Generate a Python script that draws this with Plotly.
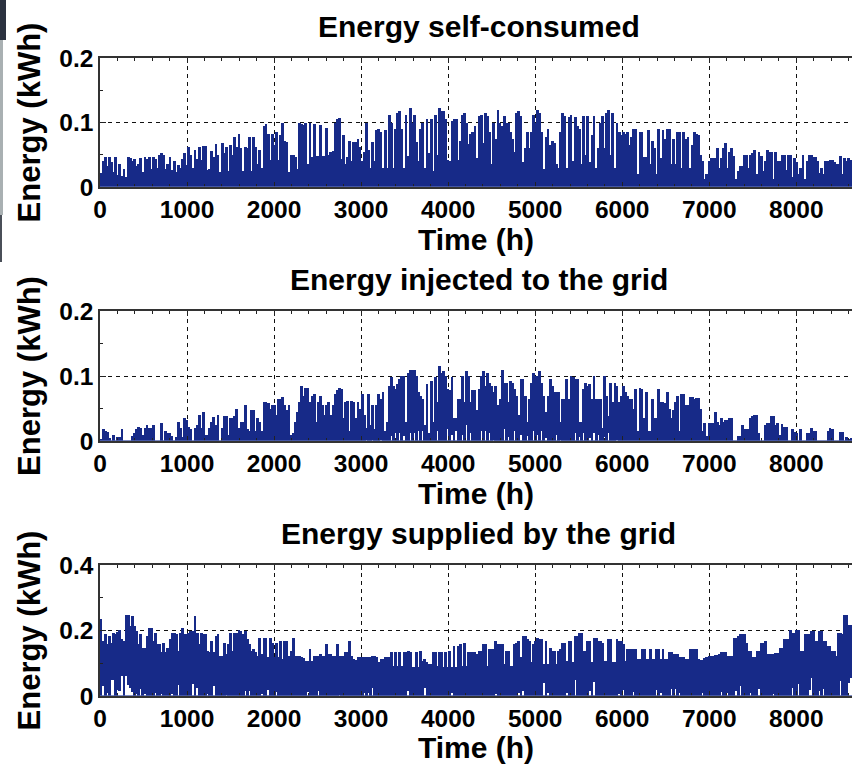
import plotly.graph_objects as go

STEP_H = 24  # one bar per day of the year, values in Wh
self_consumed_wh = [
    22,40,47,32,46,38,24,46,18,35, 17,28,15,46,45,40,44,32,36,45,
    24,46,44,46,28,46,44,30,50,52, 50,28,36,46,27,40,24,34,30,44,
    52,34,62,50,30,58,44,62,42,63, 64,26,28,56,47,66,50,24,68,52,
    62,25,65,50,78,62,82,60,25,62, 60,78,25,78,62,36,58,30,95,98,
    82,42,82,65,86,42,80,100,72,70, 24,50,50,46,28,100,98,96,100,36,
    100,46,98,48,48,96,48,48,92,50, 55,56,100,105,107,44,80,36,46,72,
    40,70,70,75,62,40,55,100,58,30, 70,40,88,90,85,30,88,30,112,100,
    30,90,115,118,90,30,112,48,122,100, 112,70,40,90,100,30,106,53,105,25,
    112,50,122,118,118,105,42,40,102,105, 105,42,72,112,115,100,66,82,85,95,
    45,110,112,68,115,110,85,36,100,75, 120,100,95,110,100,100,85,75,55,115,
    118,110,38,60,85,60,85,112,100,120, 115,85,28,78,90,65,72,68,35,30,
    85,115,110,30,108,112,40,108,95,90, 35,110,50,110,38,80,110,30,60,100,
    110,60,115,120,50,115,30,100,85,80, 85,82,85,65,78,90,90,20,85,85,
    46,46,88,35,72,60,20,90,45,88, 75,90,90,35,75,35,85,85,30,85,
    75,78,30,65,85,82,80,50,40,12, 20,40,45,45,45,60,30,45,60,68,
    30,55,60,48,12,25,32,32,50,50, 30,50,52,58,20,55,48,25,40,58,
    55,55,12,55,40,40,50,50,26,50, 50,15,45,38,20,30,50,12,40,50,
    50,46,46,40,22,30,20,40,40,42, 42,38,35,35,48,20,45,40,45,42,
]
injected_wh = [
    2,18,15,14,5,0,10,0,6,6, 18,0,0,0,0,8,12,18,22,20,
    10,20,25,20,20,25,0,0,0,28, 0,16,12,13,8,0,6,30,20,6,
    35,32,22,18,0,20,25,40,20,45, 10,10,20,30,37,25,40,0,20,38,
    38,10,35,35,38,50,20,30,30,55, 18,15,48,48,15,35,30,15,60,60,
    58,50,55,55,40,65,65,68,55,48, 55,10,12,30,45,60,85,70,82,82,
    60,70,72,30,60,70,55,40,55,60, 40,55,72,78,82,80,35,60,62,15,
    62,60,35,60,50,72,40,20,73,25, 55,18,55,72,65,75,15,30,85,98,
    85,80,88,95,100,100,30,105,110,110, 110,100,75,70,65,25,88,12,92,30,
    98,60,115,105,108,100,80,78,98,35, 35,65,65,100,60,108,100,60,78,78,
    48,80,100,108,85,105,90,85,75,85, 55,65,110,90,90,60,92,90,80,70,
    40,95,95,70,30,65,90,105,100,100, 108,90,70,45,70,95,85,75,75,75,
    30,65,65,95,65,100,98,95,95,30, 30,80,90,85,88,65,100,65,65,65,
    20,100,70,38,90,60,90,85,60,70, 85,75,70,65,65,50,80,15,82,80,
    35,75,15,15,65,35,35,80,60,60, 58,75,50,35,48,60,70,15,72,72,
    55,55,68,68,65,66,66,50,15,27, 8,28,28,28,45,30,25,35,30,32,
    32,36,36,0,0,8,8,25,18,18, 18,35,38,40,40,12,0,0,25,28,
    28,38,38,25,28,10,26,22,22,0, 0,18,14,13,0,18,0,0,12,12,
    20,15,16,0,0,0,0,0,16,20, 18,0,0,0,14,14,0,6,3,5,
]
supplied_wh = [
    235,168,188,158,183,163,193,190,196,203, 175,168,248,248,213,243,213,198,158,188,
    148,148,183,208,208,168,193,158,158,133, 163,133,148,173,193,193,188,138,193,208,
    188,190,193,198,198,243,193,158,193,190, 190,138,133,168,133,183,188,123,123,163,
    128,160,193,138,193,193,203,198,188,198, 173,158,138,143,133,123,178,128,178,178,
    118,178,163,118,163,118,168,113,168,168, 123,138,178,123,123,123,118,116,108,108,
    143,108,123,123,123,128,123,123,158,128, 128,123,123,158,123,123,123,133,133,168,
    123,113,110,118,118,118,118,118,118,118, 123,123,118,103,113,113,118,118,118,133,
    93,133,93,133,93,133,133,138,133,88, 88,133,88,138,108,113,103,98,98,133,
    133,93,133,133,88,133,88,138,88,153, 88,153,158,93,163,93,133,133,133,133,
    128,138,138,158,160,93,143,143,143,168, 158,158,160,98,138,138,93,93,160,163,
    168,120,183,183,173,168,103,158,168,178, 173,173,98,168,98,148,138,138,98,138,
    143,163,163,108,168,168,103,183,183,193, 193,138,138,168,168,103,178,178,168,168,
    163,108,108,173,173,103,103,173,168,168, 158,108,143,143,143,143,143,113,113,143,
    143,113,113,143,113,113,143,143,113,143, 113,113,133,133,128,128,128,118,118,118,
    113,113,143,143,143,143,113,110,110,115, 118,123,123,123,125,125,128,133,133,133,
    123,123,123,178,178,183,188,188,188,163, 138,138,118,118,138,138,163,163,168,128,
    128,128,128,130,130,148,148,173,173,173, 203,193,193,203,203,138,138,188,188,188,
    198,198,168,168,198,198,168,168,153,153, 138,138,123,193,193,188,248,248,218,218,
]

# Hours where the column does not reach the baseline, and the height of that opening (Wh)
injected_gap_hours = [3046,3111,3219,3334,3380,3429,3479,3544,3594,3640,3697,3862,3977,4023,4077,
                      4146,4195,4245,4360,4406,4460,4513,4628,4674,4743,4835,4896,4961,5011,5057,
                      5111,5172,5226,5279,5440,5490,5555,5609,5662,5723,5777,5824,5919]
injected_gap_wh = [2,2,2,8,12,12,8,12,12,15,15,16,18,10,15,10,25,12,15,15,12,2,18,6,15,10,8,15,
                   10,15,4,4,10,2,12,6,12,4,12,10,6,12,2]
supplied_gap_hours = [23,73,123,138,188,214,237,283,303,329,352,406,456,513,628,697,827,889,1057,
                      1115,1222,1287,1432,1662,1700,1854,1930,2026,2371,2486,2735,3022,3072,3129,
                      3520,3730,4037,4536,4805,4854,5076,5134,5356,5459,5620,5670,5954,6003,6118,
                      6386,6436,6551,6608,6651,6923,7133,7191,7286,7344,7470,7566,7727,7949,8014,
                      8129,8167,8263,8301,8493,8581,8627]
supplied_gap_wh = [30,10,50,50,18,15,60,60,35,25,12,5,20,5,8,5,5,35,38,25,5,30,3,15,15,5,18,12,12,
                   15,3,8,8,25,15,25,8,5,8,15,40,10,8,48,15,42,5,18,12,18,8,22,22,10,8,12,8,15,30,
                   8,20,5,25,38,18,55,15,22,45,40,55]

panel_titles = ["Energy self-consumed", "Energy injected to the grid", "Energy supplied by the grid"]
y_tick_vals = [[0, 0.1, 0.2], [0, 0.1, 0.2], [0, 0.2, 0.4]]
y_tick_text = [["0", "0.1", "0.2"], ["0", "0.1", "0.2"], ["0", "0.2", "0.4"]]
x_ticks = [0, 1000, 2000, 3000, 4000, 5000, 6000, 7000, 8000]
x_title = "Time (h)"
y_title = "Energy (kWh)"

W, H = 852, 764
BLUE = "#172a88"
FONT = "Liberation Sans"
plot_px = [(58, 187), (311, 441), (565, 696)]
title_px = [26, 279, 533]
series = [
    (self_consumed_wh, [], []),
    (injected_wh, injected_gap_hours, injected_gap_wh),
    (supplied_wh, supplied_gap_hours, supplied_gap_wh),
]

fig = go.Figure()
annotations, shapes = [], []
for i, (vals, gap_h, gap_v) in enumerate(series):
    n = i + 1
    suffix = "" if i == 0 else str(n)
    base = [0] * len(vals)
    for h, g in zip(gap_h, gap_v):
        k = min(round(h / STEP_H), len(vals) - 1)
        base[k] = min(g, vals[k])
    fig.add_trace(go.Bar(
        x=[k * STEP_H + STEP_H / 2 for k in range(len(vals))],
        y=[(v - b) / 1000 for v, b in zip(vals, base)],
        base=[b / 1000 for b in base],
        width=STEP_H * 1.35,
        marker=dict(color=BLUE, line=dict(width=0)),
        xaxis="x" + suffix, yaxis="y" + suffix, showlegend=False,
    ))
    top, bot = plot_px[i]
    ymax = y_tick_vals[i][-1]
    fig.update_layout({
        "xaxis" + suffix: dict(
            domain=[100 / W, 1], range=[0, len(vals) * STEP_H], anchor="y" + suffix,
            tickvals=x_ticks, ticks="inside", ticklen=5, tickcolor="#222",
            showline=True, linecolor="#333", linewidth=1.5, mirror="ticks",
            showgrid=True, gridcolor="#111", griddash="4px,4px", gridwidth=1, zeroline=False,
            minor=dict(dtick=200, ticks="inside", ticklen=3, tickcolor="#222", showgrid=False),
            tickfont=dict(family=FONT, size=24.5, color="#000", weight=700),
            title=dict(text=x_title, standoff=7,
                       font=dict(family=FONT, size=30, color="#000", weight=700)),
            automargin=False,
        ),
        "yaxis" + suffix: dict(
            domain=[1 - bot / H, 1 - top / H], range=[0, ymax], anchor="x" + suffix,
            tickvals=y_tick_vals[i], ticktext=y_tick_text[i],
            ticks="inside", ticklen=6, tickcolor="#222",
            showline=True, linecolor="#333", linewidth=1.5,
            showgrid=True, gridcolor="#111", griddash="4px,4px", gridwidth=1, zeroline=False,
            minor=dict(dtick=ymax / 4, ticks="inside", ticklen=3, tickcolor="#222", showgrid=False),
            tickfont=dict(family=FONT, size=24.5, color="#000", weight=700),
            title=dict(text=y_title, standoff=9,
                       font=dict(family=FONT, size=31, color="#000", weight=700)),
            automargin=False,
        ),
    })
    annotations.append(dict(
        text=panel_titles[i], xref="paper", yref="paper", x=479 / W, y=1 - title_px[i] / H,
        showarrow=False, xanchor="center", yanchor="middle",
        font=dict(family=FONT, size=30, color="#000", weight=700),
    ))
    shapes.append(dict(
        type="line", xref="x" + suffix + " domain", yref="y" + suffix,
        x0=0, x1=1, y0=0, y1=0, line=dict(color="#5566b0", width=1.5), layer="above",
    ))

# Photo edge left in the scan at the far left of the page
for x1, y0, y1, c in [(6, 0, 40, "#2b3240"), (3, 40, 215, "#a9b0b2"), (2, 215, 262, "#4a4f58")]:
    shapes.append(dict(type="rect", xref="paper", yref="paper", x0=0, x1=x1 / W,
                       y0=1 - y1 / H, y1=1 - y0 / H, fillcolor=c, line=dict(width=0), layer="below"))

fig.update_layout(
    width=W, height=H, margin=dict(l=0, r=0, t=0, b=0),
    paper_bgcolor="white", plot_bgcolor="white",
    barmode="overlay", bargap=0,
    annotations=annotations, shapes=shapes,
)
fig.write_html("out.html", config=dict(displayModeBar=False),
               post_script="document.body.style.margin='0';document.body.style.overflow='hidden';")
